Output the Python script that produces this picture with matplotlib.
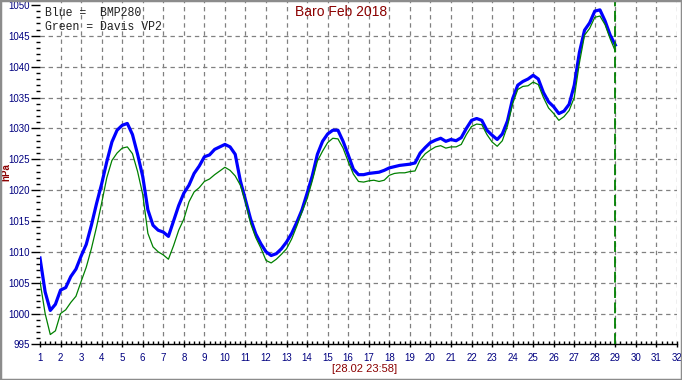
import numpy as np
import matplotlib
matplotlib.use("Agg")
import matplotlib.pyplot as plt
from matplotlib.ticker import MultipleLocator
from matplotlib.patches import Rectangle

# ---- data (hPa, sampled every 6 h from 1 Feb 00:00) ----
blue_bmp280 = [
    1009.0, 1003.5, 1000.5, 1001.5, 1003.8, 1004.2, 1006.0, 1007.2,
    1009.3, 1011.2, 1014.3, 1017.8, 1021.0, 1024.6, 1027.8, 1029.7,
    1030.5, 1030.8, 1029.0, 1025.8, 1022.2, 1016.8, 1014.3, 1013.5,
    1013.2, 1012.5, 1015.0, 1017.5, 1019.5, 1020.8, 1022.7, 1023.9,
    1025.4, 1025.7, 1026.6, 1027.0, 1027.4, 1027.0, 1025.8, 1021.5,
    1018.4, 1015.3, 1012.9, 1011.3, 1010.0, 1009.4, 1009.7, 1010.5,
    1011.6, 1013.0, 1014.8, 1016.8, 1019.5, 1022.3, 1025.8, 1027.9,
    1029.1, 1029.7, 1029.7, 1027.9, 1025.7, 1023.4, 1022.5, 1022.5,
    1022.7, 1022.8, 1022.9, 1023.2, 1023.6, 1023.8, 1024.0, 1024.1,
    1024.2, 1024.4, 1026.0, 1026.9, 1027.7, 1028.1, 1028.4, 1027.9,
    1028.2, 1028.0, 1028.5, 1030.0, 1031.3, 1031.6, 1031.3, 1029.7,
    1028.9, 1028.2, 1029.1, 1031.2, 1034.8, 1037.0, 1037.6, 1038.0,
    1038.6, 1038.0, 1035.8, 1034.3, 1033.5, 1032.4, 1032.8, 1033.9,
    1037.0, 1042.3, 1045.9, 1047.1, 1049.0, 1049.2, 1047.4, 1045.1,
    1043.5,
]
green_davis = [
    1005.2, 1000.0, 996.6, 997.2, 1000.0, 1000.6, 1001.8, 1002.8,
    1005.2, 1007.5, 1010.5, 1014.0, 1017.9, 1022.0, 1024.8, 1026.0,
    1026.8, 1027.0, 1025.9, 1023.0, 1019.3, 1013.0, 1010.8, 1010.0,
    1009.5, 1008.8, 1011.0, 1013.5, 1015.3, 1018.1, 1019.7, 1020.4,
    1021.4, 1021.8, 1022.5, 1023.1, 1023.7, 1023.2, 1022.3, 1020.8,
    1018.1, 1014.6, 1012.3, 1010.6, 1008.6, 1008.2, 1008.8, 1009.6,
    1010.5, 1012.1, 1014.2, 1016.5, 1018.6, 1021.5, 1024.7, 1026.3,
    1027.7, 1028.4, 1028.3, 1026.8, 1024.6, 1022.6, 1021.4, 1021.3,
    1021.5, 1021.6, 1021.4, 1021.6, 1022.4, 1022.7, 1022.8, 1022.8,
    1023.0, 1023.1, 1024.9, 1025.9, 1026.5, 1027.0, 1027.2, 1026.8,
    1027.0, 1027.0, 1027.4, 1029.0, 1030.3, 1030.7, 1030.6, 1029.0,
    1027.8, 1027.1, 1028.0, 1030.4, 1034.0, 1036.3, 1036.8, 1036.9,
    1037.5, 1037.1, 1035.0, 1033.3, 1032.4, 1031.3, 1031.9, 1032.9,
    1035.0, 1040.6, 1045.1, 1046.2, 1048.0, 1048.2, 1046.8, 1044.5,
    1042.5,
]
days = 1 + 0.25 * np.arange(len(blue_bmp280))
now_day = 28 + (23 + 58 / 60) / 24
title = "Baro Feb 2018"
legend_lines = ["Blue =  BMP280", "Green = Davis VP2"]
stamp = "[28.02 23:58]"

NARROW = ["Liberation Sans Narrow", "Liberation Sans", "DejaVu Sans"]
NAVY = "#000080"
DARKRED = "#8B0000"

fig = plt.figure(figsize=(6.82, 3.80), dpi=100)
fig.patch.set_facecolor("white")
ax = fig.add_axes([40 / 682, (380 - 344.4) / 380, 637 / 682, 344.4 / 380])

ax.set_xlim(1, 32)
ax.set_ylim(995, 1050.8)

ax.plot(days, blue_bmp280, color="#0000FF", lw=2.3, zorder=3)
ax.plot(days, green_davis, color="#008000", lw=0.9, zorder=4)
ax.axvline(now_day, color="#008000", lw=1.3, ls=(0, (6, 2.5)), zorder=5)

ax.xaxis.set_major_locator(MultipleLocator(1))
ax.xaxis.set_minor_locator(MultipleLocator(0.25))
ax.yaxis.set_major_locator(MultipleLocator(5))
ax.yaxis.set_minor_locator(MultipleLocator(1))

for s in ["top", "right", "left"]:
    ax.spines[s].set_visible(False)
ax.spines["bottom"].set_color("black")
ax.spines["bottom"].set_linewidth(1.0)

ax.tick_params(axis="x", which="major", direction="inout", length=5, width=1,
               colors="black", labelcolor=NAVY, pad=4, labelsize=7)
ax.tick_params(axis="x", which="minor", direction="in", length=2.3, width=1, colors="black")
ax.tick_params(axis="y", which="major", direction="out", length=6.8, width=1,
               colors="black", labelcolor=NAVY, pad=0.5, labelsize=7)
ax.tick_params(axis="y", which="minor", direction="out", length=3, width=1, colors="black")
for lab in ax.get_xticklabels() + ax.get_yticklabels():
    lab.set_family(NARROW)

ax.grid(True, which="major", color="#808080", ls=(0, (3.5, 3)), lw=0.9)
ax.set_axisbelow(True)
fig.canvas.draw()
for tick in ax.yaxis.get_major_ticks():
    if tick.get_loc() >= 1050 or tick.get_loc() <= 995:
        tick.gridline.set_visible(False)
for tick in ax.xaxis.get_major_ticks():
    if tick.get_loc() <= 1:
        tick.gridline.set_visible(False)

fig.text(341 / 682, 1 - 12.5 / 380, title, color=DARKRED, fontsize=10,
         family=NARROW, ha="center", va="center")
fig.text(45 / 682, 1 - 12.7 / 380, legend_lines[0], color="#202020", fontsize=8.3,
         family=["Liberation Mono", "DejaVu Sans Mono"], ha="left", va="center")
fig.text(45 / 682, 1 - 26.7 / 380, legend_lines[1], color="#202020", fontsize=8.3,
         family=["Liberation Mono", "DejaVu Sans Mono"], ha="left", va="center")
fig.text(6.5 / 682, 1 - 172 / 380, "hPa", color=DARKRED, fontsize=7, fontweight="bold",
         family=["Liberation Sans", "DejaVu Sans"], rotation=90, ha="center", va="center")
fig.text(365 / 682, 1 - 369 / 380, stamp, color=DARKRED, fontsize=8,
         family=NARROW, ha="center", va="center")

fig.patches.append(Rectangle((0, 0), 1, 1, transform=fig.transFigure, fill=False,
                             edgecolor="#8c8c8c", lw=2.5, zorder=10))

fig.savefig("out.png", dpi=100)
